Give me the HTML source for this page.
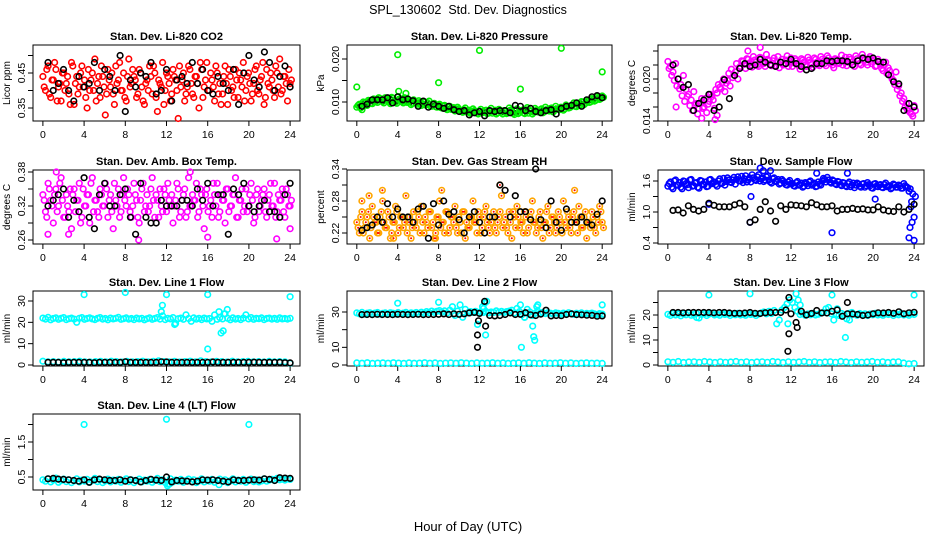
<!DOCTYPE html>
<html><head><meta charset="utf-8"><style>
body{margin:0;background:#fff;}
svg{display:block;font-family:"Liberation Sans",sans-serif;}
</style></head><body>
<svg id="c" width="936" height="540" viewBox="0 0 936 540">
<text x="468" y="14" text-anchor="middle" font-size="12.5" style="white-space:pre">SPL_130602&#160; Std. Dev. Diagnostics</text>
<text x="468" y="531" text-anchor="middle" font-size="13">Hour of Day (UTC)</text>
</svg>
<script>
// ---- data ----
const hourTicks=[0,4,8,12,16,20,24];
const co2Red=[0.44,0.40,0.47,0.38,0.43,0.46,0.41,0.37,0.45,0.42,0.39,0.48,0.36,0.44,0.41,0.47,0.43,0.35,0.40,0.45,0.49,0.42,0.38,0.44,0.33,0.46,0.41,0.39,0.47,0.43,0.40,0.45,0.37,0.49,0.42,0.44,0.38,0.46,0.41,0.36,0.43,0.47,0.39,0.45,0.34,0.42,0.48,0.40,0.44,0.37,0.46,0.43,0.32,0.41,0.45,0.39,0.47,0.42,0.38,0.44,0.35,0.46,0.41,0.48,0.40,0.43,0.37,0.45,0.42,0.39,0.47,0.36,0.44,0.41,0.46,0.38,0.43,0.48,0.40,0.45,0.37,0.42,0.47,0.39,0.44,0.36,0.46,0.41,0.43,0.38,0.45,0.49,0.40,0.44,0.37,0.42];
const co2Red2=[0.41,0.46,0.39,0.43,0.48,0.37,0.42,0.45,0.40,0.44,0.36,0.47,0.42,0.39,0.45,0.41,0.38,0.46,0.43,0.40,0.37,0.44,0.47,0.41,0.39,0.43,0.45,0.36,0.42,0.48,0.40,0.38,0.44,0.41,0.46,0.43,0.39,0.45,0.37,0.42,0.40,0.44,0.47,0.38,0.43,0.41,0.36,0.45,0.42,0.39,0.44,0.40,0.47,0.43,0.37,0.41,0.46,0.39,0.44,0.42,0.48,0.38,0.43,0.40,0.45,0.41,0.47,0.39,0.36,0.44,0.42,0.46,0.40,0.38,0.43,0.45,0.41,0.37,0.44,0.42,0.39,0.46,0.40,0.43,0.48,0.38,0.42,0.45,0.40,0.47,0.41,0.39,0.44,0.42,0.46,0.43];
const co2Black=[0.48,0.40,0.42,0.46,0.40,0.37,0.44,0.41,0.42,0.48,0.40,0.46,0.44,0.40,0.50,0.34,0.43,0.41,0.45,0.44,0.48,0.39,0.40,0.46,0.37,0.43,0.44,0.42,0.48,0.42,0.46,0.40,0.39,0.44,0.42,0.40,0.46,0.36,0.45,0.50,0.43,0.41,0.51,0.48,0.40,0.44,0.47,0.41];
const presGreen=[0.0088,0.0095,0.0082,0.0098,0.0092,0.0102,0.0096,0.0106,0.0099,0.0108,0.0101,0.0110,0.0103,0.0096,0.0109,0.0100,0.0112,0.0104,0.0098,0.0108,0.0101,0.0094,0.0105,0.0098,0.0103,0.0092,0.0100,0.0094,0.0102,0.0090,0.0097,0.0088,0.0095,0.0086,0.0092,0.0082,0.0090,0.0085,0.0079,0.0088,0.0081,0.0076,0.0086,0.0080,0.0074,0.0084,0.0078,0.0072,0.0083,0.0077,0.0081,0.0074,0.0085,0.0078,0.0072,0.0083,0.0076,0.0080,0.0073,0.0086,0.0078,0.0071,0.0084,0.0076,0.0081,0.0073,0.0087,0.0079,0.0072,0.0085,0.0077,0.0082,0.0075,0.0088,0.0080,0.0085,0.0077,0.0090,0.0083,0.0088,0.0081,0.0093,0.0086,0.0091,0.0098,0.0089,0.0096,0.0101,0.0094,0.0104,0.0099,0.0108,0.0102,0.0112,0.0106,0.0114];
const presGreen2=[0.0092,0.0086,0.0100,0.0094,0.0104,0.0097,0.0107,0.0102,0.0110,0.0104,0.0098,0.0106,0.0100,0.0111,0.0103,0.0097,0.0107,0.0101,0.0110,0.0099,0.0104,0.0097,0.0101,0.0095,0.0099,0.0096,0.0093,0.0098,0.0091,0.0095,0.0089,0.0093,0.0087,0.0091,0.0085,0.0088,0.0083,0.0087,0.0081,0.0084,0.0078,0.0082,0.0077,0.0081,0.0076,0.0080,0.0074,0.0079,0.0075,0.0080,0.0073,0.0078,0.0074,0.0081,0.0075,0.0079,0.0072,0.0078,0.0075,0.0081,0.0074,0.0079,0.0073,0.0080,0.0075,0.0082,0.0074,0.0079,0.0076,0.0081,0.0078,0.0084,0.0077,0.0082,0.0079,0.0086,0.0080,0.0084,0.0082,0.0087,0.0084,0.0089,0.0087,0.0093,0.0090,0.0095,0.0093,0.0099,0.0097,0.0102,0.0100,0.0105,0.0104,0.0109,0.0108,0.0111];
const presOutHours=[0,4,4.1,8,12,16,20,24,4.8];
const presOutValues=[0.0135,0.021,0.0125,0.0145,0.0220,0.013,0.0225,0.017,0.012];
const presBlack=[0.0090,0.0095,0.0105,0.0105,0.0105,0.0110,0.0098,0.0112,0.0105,0.0107,0.0103,0.0090,0.0102,0.0088,0.0095,0.0090,0.0085,0.0090,0.0082,0.0078,0.0080,0.0070,0.0075,0.0078,0.0068,0.0080,0.0078,0.0080,0.0080,0.0075,0.0092,0.0090,0.0080,0.0085,0.0078,0.0075,0.0080,0.0082,0.0072,0.0085,0.0090,0.0092,0.0098,0.0090,0.0105,0.0112,0.0115,0.0110];
const tempMag=[0.0225,0.0218,0.0210,0.0222,0.0200,0.0192,0.0205,0.0185,0.0178,0.0170,0.0182,0.0165,0.0158,0.0172,0.0160,0.0152,0.0168,0.0175,0.0158,0.0180,0.0188,0.0195,0.0182,0.0198,0.0190,0.0202,0.0210,0.0200,0.0218,0.0225,0.0215,0.0228,0.0220,0.0232,0.0224,0.0218,0.0230,0.0222,0.0235,0.0226,0.0219,0.0230,0.0224,0.0216,0.0228,0.0221,0.0233,0.0225,0.0218,0.0229,0.0222,0.0214,0.0227,0.0220,0.0231,0.0223,0.0217,0.0228,0.0221,0.0232,0.0225,0.0219,0.0230,0.0223,0.0216,0.0228,0.0222,0.0234,0.0226,0.0219,0.0231,0.0224,0.0218,0.0229,0.0222,0.0235,0.0227,0.0220,0.0232,0.0225,0.0218,0.0228,0.0221,0.0212,0.0224,0.0216,0.0205,0.0198,0.0210,0.0190,0.0180,0.0172,0.0165,0.0158,0.0150,0.0162];
const tempMag2=[0.0215,0.0205,0.0198,0.0190,0.0186,0.0176,0.0168,0.0175,0.0162,0.0155,0.0163,0.0150,0.0166,0.0158,0.0172,0.0164,0.0178,0.0170,0.0185,0.0192,0.0186,0.0200,0.0194,0.0208,0.0214,0.0206,0.0222,0.0216,0.0226,0.0221,0.0229,0.0223,0.0217,0.0227,0.0220,0.0231,0.0224,0.0218,0.0228,0.0221,0.0226,0.0219,0.0232,0.0224,0.0220,0.0227,0.0218,0.0230,0.0223,0.0226,0.0219,0.0229,0.0224,0.0218,0.0227,0.0221,0.0230,0.0224,0.0219,0.0228,0.0222,0.0233,0.0225,0.0220,0.0229,0.0223,0.0226,0.0220,0.0231,0.0224,0.0228,0.0221,0.0233,0.0226,0.0220,0.0230,0.0224,0.0229,0.0222,0.0227,0.0219,0.0224,0.0215,0.0220,0.0208,0.0212,0.0200,0.0192,0.0185,0.0176,0.0168,0.0160,0.0155,0.0152,0.0147,0.0155];
const tempOutHours=[3.3,4.6,4.8,0.8,9,7.8];
const tempOutValues=[0.0144,0.0142,0.0148,0.0160,0.0245,0.0240];
const tempBlack=[0.0220,0.0200,0.0188,0.0192,0.0155,0.0165,0.0170,0.0178,0.0155,0.0160,0.0199,0.0172,0.0205,0.0215,0.0222,0.0218,0.0220,0.0228,0.0224,0.0220,0.0218,0.0224,0.0222,0.0228,0.0222,0.0218,0.0213,0.0215,0.0222,0.0222,0.0226,0.0225,0.0226,0.0226,0.0225,0.0220,0.0226,0.0230,0.0228,0.0230,0.0225,0.0224,0.0206,0.0196,0.0193,0.0155,0.0165,0.0160];
const ambMag=[0.34,0.31,0.36,0.33,0.29,0.35,0.32,0.37,0.30,0.34,0.31,0.28,0.35,0.33,0.36,0.30,0.32,0.34,0.29,0.37,0.33,0.31,0.35,0.32,0.36,0.30,0.34,0.28,0.33,0.35,0.31,0.37,0.32,0.34,0.30,0.36,0.33,0.29,0.35,0.31,0.34,0.32,0.37,0.30,0.33,0.35,0.31,0.34,0.36,0.32,0.29,0.33,0.35,0.31,0.34,0.30,0.37,0.32,0.33,0.36,0.31,0.34,0.28,0.35,0.32,0.30,0.34,0.36,0.31,0.33,0.29,0.35,0.32,0.34,0.37,0.30,0.33,0.31,0.35,0.32,0.36,0.29,0.34,0.31,0.33,0.35,0.30,0.34,0.32,0.36,0.31,0.33,0.35,0.30,0.34,0.32];
const ambMag2=[0.33,0.30,0.35,0.32,0.34,0.31,0.36,0.33,0.30,0.32,0.35,0.34,0.31,0.33,0.29,0.35,0.32,0.34,0.36,0.31,0.33,0.30,0.34,0.32,0.35,0.33,0.31,0.36,0.32,0.30,0.34,0.33,0.35,0.31,0.32,0.34,0.30,0.33,0.36,0.32,0.31,0.35,0.33,0.34,0.30,0.32,0.35,0.31,0.33,0.34,0.32,0.36,0.30,0.33,0.35,0.31,0.32,0.34,0.33,0.30,0.35,0.32,0.34,0.31,0.33,0.36,0.32,0.30,0.34,0.33,0.35,0.31,0.32,0.34,0.30,0.33,0.35,0.32,0.31,0.34,0.33,0.30,0.35,0.32,0.34,0.31,0.33,0.36,0.32,0.30,0.34,0.33,0.31,0.35,0.32,0.33];
const ambOutHours=[0.5,2.5,9.3,16,22.7,14.3,1.3,24];
const ambOutValues=[0.27,0.27,0.26,0.265,0.262,0.38,0.38,0.28];
const ambBlack=[0.32,0.33,0.34,0.35,0.30,0.33,0.31,0.37,0.30,0.28,0.34,0.36,0.32,0.32,0.34,0.35,0.30,0.27,0.36,0.30,0.29,0.29,0.33,0.32,0.32,0.32,0.33,0.33,0.32,0.35,0.33,0.36,0.32,0.34,0.34,0.27,0.35,0.34,0.36,0.32,0.31,0.32,0.33,0.31,0.31,0.30,0.34,0.36];
const rhOrange=[0.24,0.22,0.26,0.23,0.25,0.21,0.27,0.24,0.22,0.25,0.28,0.23,0.26,0.21,0.24,0.27,0.22,0.25,0.23,0.29,0.24,0.21,0.26,0.23,0.25,0.27,0.22,0.24,0.26,0.23,0.21,0.25,0.28,0.24,0.22,0.26,0.23,0.25,0.27,0.22,0.24,0.26,0.21,0.23,0.25,0.28,0.24,0.26,0.22,0.25,0.27,0.23,0.24,0.26,0.22,0.25,0.29,0.24,0.23,0.26,0.21,0.25,0.27,0.23,0.24,0.26,0.22,0.25,0.28,0.24,0.23,0.26,0.21,0.24,0.27,0.23,0.25,0.22,0.26,0.24,0.28,0.23,0.25,0.22,0.26,0.24,0.27,0.23,0.25,0.21,0.24,0.26,0.23,0.25,0.27,0.24];
const rhOrange2=[0.23,0.25,0.22,0.24,0.26,0.23,0.25,0.24,0.22,0.26,0.24,0.23,0.25,0.22,0.24,0.26,0.23,0.25,0.24,0.22,0.25,0.23,0.24,0.26,0.22,0.24,0.25,0.23,0.26,0.24,0.22,0.25,0.23,0.24,0.26,0.22,0.25,0.24,0.23,0.25,0.22,0.26,0.24,0.23,0.25,0.24,0.22,0.25,0.23,0.26,0.24,0.22,0.25,0.23,0.24,0.26,0.23,0.25,0.22,0.24,0.26,0.23,0.25,0.24,0.22,0.25,0.23,0.26,0.24,0.22,0.25,0.23,0.24,0.26,0.22,0.25,0.24,0.23,0.25,0.22,0.24,0.26,0.23,0.25,0.24,0.22,0.25,0.23,0.26,0.24,0.23,0.25,0.22,0.24,0.26,0.23];
const rhOutHours=[2.5,8.3,14,21.3,0.5,7.7,1.2,3.6];
const rhOutValues=[0.30,0.30,0.31,0.30,0.28,0.21,0.29,0.21];
const rhBlack=[0.225,0.23,0.235,0.25,0.24,0.275,0.25,0.265,0.25,0.25,0.24,0.265,0.27,0.21,0.275,0.235,0.28,0.255,0.26,0.245,0.22,0.25,0.26,0.24,0.22,0.25,0.25,0.31,0.30,0.25,0.29,0.26,0.26,0.245,0.34,0.245,0.23,0.28,0.24,0.225,0.265,0.24,0.24,0.25,0.24,0.235,0.255,0.28];
const flowBlue=[1.50,1.58,1.45,1.62,1.52,1.48,1.60,1.55,1.47,1.63,1.51,1.57,1.46,1.60,1.53,1.49,1.62,1.55,1.58,1.50,1.64,1.56,1.52,1.66,1.58,1.62,1.54,1.68,1.60,1.57,1.70,1.62,1.58,1.66,1.61,1.72,1.64,1.59,1.68,1.62,1.56,1.66,1.60,1.54,1.63,1.57,1.52,1.61,1.55,1.50,1.59,1.53,1.48,1.57,1.51,1.60,1.54,1.49,1.58,1.52,1.65,1.58,1.62,1.56,1.60,1.53,1.58,1.51,1.56,1.49,1.58,1.52,1.47,1.56,1.50,1.54,1.48,1.57,1.51,1.46,1.55,1.49,1.53,1.47,1.56,1.50,1.45,1.54,1.48,1.52,1.46,1.55,1.49,1.40,1.20,0.90];
const flowBlue2=[1.55,1.48,1.60,1.52,1.57,1.45,1.59,1.53,1.62,1.50,1.56,1.48,1.61,1.54,1.58,1.50,1.63,1.57,1.53,1.60,1.55,1.65,1.59,1.62,1.57,1.67,1.63,1.60,1.69,1.64,1.58,1.66,1.72,1.63,1.68,1.60,1.66,1.62,1.70,1.58,1.64,1.59,1.63,1.56,1.60,1.53,1.58,1.55,1.51,1.57,1.52,1.56,1.50,1.55,1.58,1.52,1.56,1.50,1.54,1.60,1.63,1.67,1.58,1.62,1.55,1.59,1.53,1.57,1.51,1.55,1.49,1.56,1.52,1.54,1.48,1.55,1.51,1.53,1.47,1.54,1.50,1.52,1.48,1.53,1.49,1.51,1.47,1.52,1.48,1.50,1.46,1.51,1.47,1.45,1.35,1.30];
const flowOutHours=[8,8.1,9,9.3,10,14.5,16,17.5,23.5,23.6,23.8,24,23.7,20.2,4];
const flowOutValues=[0.80,1.30,1.85,1.80,1.80,1.75,0.60,1.75,0.50,0.70,0.80,0.45,1.10,1.25,1.15];
const flowBlack=[1.03,1.04,0.98,1.12,1.05,1.02,1.05,1.17,1.13,1.10,1.10,1.10,1.14,1.17,1.10,0.80,0.85,1.05,1.20,1.02,0.82,1.12,1.05,1.14,1.13,1.12,1.10,1.18,1.14,1.10,1.10,1.12,1.02,1.05,1.05,1.07,1.05,1.06,1.04,1.04,1.10,1.04,1.02,1.01,1.10,1.00,1.05,1.15];
const line1Cyan=[22,21.5,22.3,21.2,21.8,22.1,21.4,21.9,22.2,21.3,21.7,22,21.5,20,21.9,22.2,21.4,21.8,22.1,21.6,21.3,21.9,22.2,21.5,21.8,21.2,22,21.6,21.9,22.3,21.4,21.7,22.1,21.5,21.8,21.3,22,21.6,21.9,21.2,21.7,22.1,21.4,21.8,22.2,21.5,23,21.3,21.9,21.6,22.2,19.5,21.7,22,21.4,23.5,21.8,20.5,22.1,21.5,21.9,21.3,22,21.6,21.8,20.5,23.5,21.4,22.2,21.6,24,21.9,21.2,22.1,21.5,21.8,21.3,22,23.5,21.6,22.2,21.4,21.9,21.7,22.1,21.3,21.8,22,21.5,21.9,21.4,22.1,21.6,21.8,21.5,21.9];
const line1Low=[1.8,1.5,1.6,1.4,1.7,1.5,1.6,1.8,1.5,1.4,1.6,1.7,1.5,1.8,1.6,1.4,1.7,1.5,1.6,1.8,1.5,1.7,1.9,1.6,1.5,1.7,1.4,1.6,1.8,1.5,1.9,1.6,1.5,1.7,1.6,1.4,1.8,1.5,1.6,1.7,1.5,1.6,1.4,1.7,1.5,1.6,1.5,0.8];
const line1OutHours=[4,8,12,16,24,11.5,11.6,16,17.3,17.5,17.1,17.9,17.6,12.8];
const line1OutValues=[33,34,33,33,32,25,28,7.5,15,16,25,26,24,19];
const line1Black=[1.2,1.2,1.2,1.1,1.2,1.2,1.2,1.2,1.2,1.1,1.2,1.2,1.2,1.2,1.2,1.5,1.2,1.2,1.2,1.2,1.2,1.2,1.5,1.4,1.2,1.2,1.2,1.2,1.2,1.2,1.2,1.2,1.4,1.2,1.2,1.2,1.2,1.2,1.2,1.2,1.3,1.2,1.2,1.2,1.2,1.2,1.1,1.0];
const line2Cyan=[29.5,29,29.8,28.8,29.3,29.6,28.9,29.4,29.7,28.8,29.2,29.5,29,29.6,29.3,28.9,29.7,29.1,29.4,29.8,29,29.5,29.2,29.7,29.1,29.9,29.4,30.2,29.6,30.5,29.8,30.4,30.8,29.9,30.6,29.5,31,33,28,30.5,34,27,31.5,29.5,30.2,29.8,30.4,29.6,30.1,29.7,30.3,29.5,30,29.8,30.6,29.9,30.4,29.7,30.2,30.5,31,29.5,32,30.2,28.5,27,31.5,30,28,29.2,30.6,29.4,29.8,29.1,29.6,29.3,28.9,29.5,29.2,28.8,29.4,29,29.6,29.1,28.7,29.3,29,29.5,28.8,29.2,28.9,29.4,29,28.6,29.1,28.8];
const line2Low=[1.2,1,1.3,0.9,1.1,1.2,1,1.3,1.1,0.9,1.2,1,1.1,1.3,1,1.2,0.9,1.1,1.2,1,1.3,1.1,0.9,1.2,1,1.1,1.3,1,1.2,0.9,1.1,1.2,1,1.3,1.1,0.9,1.2,1,1.1,1.3,1,1.2,0.9,1.1,1.2,1,1.1,0.9];
const line2OutHours=[4,8,16,24,12.3,12.5,12.7,11.8,12.6,16.1,17.3,17.4,17.6,17.7,17.2,12.4,16.4];
const line2OutValues=[35,35.5,34,34,33,35,36,23,17,10,16,14,33,34,22,32,27];
const line2Black=[28.5,28.6,28.5,28.7,28.6,28.6,28.5,28.7,28.6,28.5,28.6,28.7,28.5,28.6,28.6,28.7,28.9,28.6,29,28.7,29,29.5,29.8,29.2,36,28,27.8,28,28.6,29.5,28.6,28.7,29.6,28.4,28,28.8,31,27.8,28,27.9,28.6,28.9,28.5,28.4,28.2,28.1,27.6,27.8];
const line2BlkOutHours=[11.8,11.8,12.6,11.9];
const line2BlkOutValues=[17,10,22,25];
const line3Cyan=[20.3,19.8,20.6,20,20.4,19.7,20.5,20.1,20.7,19.9,20.3,20.6,18.8,20.2,20.5,19.8,20.4,20.7,20,20.3,19.9,20.6,20.2,20.5,19.8,20.4,20.1,20.7,20,20.3,19.9,20.6,20.2,20.5,19.8,20.4,20.8,21.2,20.5,21.5,20.6,21.8,16.5,18,22,23,24.5,26,25,23,21.5,20.2,20.6,19.9,20.4,20.1,20.7,20,20.3,20.8,21,22.5,23,20.5,18,20.3,19.8,20.6,20.1,18.5,20.7,21,20.3,19.9,20.6,20.2,20.5,19.8,20.4,20.1,20.7,20,20.3,19.9,20.6,20.2,20.5,19.8,20.4,20.1,20.6,20,20.3,19.9,20.5,20.2];
const line3Low=[1.3,1.1,1.4,1,1.2,1.3,1.1,1.4,1.2,1,1.3,1.1,1.2,1.4,1.1,1.3,1,1.2,1.3,1.1,1.4,1.2,1,1.3,1.1,1.2,1.4,1.1,1.3,1,1.2,1.3,1.1,1.4,1.2,1,1.3,1.1,1.2,1.4,1.1,1.3,1,1.2,1.3,0.8,0.5,0.6];
const line3OutHours=[4,8,16,24,12.5,12.7,12.9,17.3,17.7,11.7,16.5,2.8];
const line3OutValues=[28,28.5,28,28,28.5,26,24,11,18,16.5,22.5,19];
const line3Black=[21,21,20.9,21,21,21,21,21,20.9,21,21,20.8,20.7,20.7,20.8,21,20.7,20.6,20.9,21,21,21,22,20.5,17,21.5,20,20.6,21.8,20.8,20.8,21.5,22,19.5,20.5,20.4,20.2,19.8,20,20.5,20.9,20.8,21,20.7,21.3,20.5,20.9,21.1];
const line3BlkOutHours=[11.8,11.8,11.7,12.6,17.5];
const line3BlkOutValues=[27,12.5,5.5,15,25];
const line4Cyan=[0.42,0.38,0.45,0.36,0.41,0.47,0.35,0.40,0.44,0.37,0.42,0.34,0.39,0.45,0.36,0.41,0.38,0.43,0.35,0.40,0.46,0.37,0.42,0.34,0.39,0.44,0.36,0.41,0.38,0.43,0.35,0.40,0.45,0.37,0.42,0.34,0.39,0.44,0.36,0.41,0.38,0.43,0.35,0.40,0.46,0.37,0.42,0.34,0.30,0.45,0.36,0.41,0.38,0.43,0.35,0.40,0.44,0.37,0.42,0.34,0.39,0.45,0.36,0.41,0.38,0.43,0.35,0.40,0.44,0.37,0.42,0.34,0.39,0.45,0.36,0.41,0.38,0.43,0.35,0.40,0.44,0.37,0.42,0.36,0.39,0.45,0.38,0.41,0.43,0.40,0.46,0.42,0.44,0.41,0.45,0.43];
const line4OutHours=[4,12,20,12.1,17.1,12.3];
const line4OutValues=[2.0,2.15,2.0,0.25,0.28,0.3];
const line4Black=[0.45,0.46,0.44,0.43,0.42,0.40,0.38,0.42,0.35,0.42,0.44,0.42,0.40,0.40,0.42,0.38,0.42,0.40,0.36,0.40,0.43,0.41,0.40,0.50,0.36,0.40,0.39,0.38,0.36,0.38,0.42,0.41,0.42,0.40,0.38,0.36,0.42,0.40,0.40,0.41,0.42,0.41,0.45,0.43,0.40,0.48,0.47,0.46];

// ---- drawing ----
const NS='http://www.w3.org/2000/svg';
const svg=document.getElementById('c');
function mk(tag,attrs,parent){const e=document.createElementNS(NS,tag);for(const k in attrs)e.setAttribute(k,attrs[k]);(parent||svg).appendChild(e);return e;}
const cols=[{l:33,r:300},{l:347,r:612},{l:658,r:924}];
const rows=[{t:45,b:121},{t:170,b:244},{t:291,b:366},{t:414,b:490}];
function panel(cfg){
  const c=cols[cfg.col],rw=rows[cfg.row];
  const g=mk('g',{});
  
  
  const xs=h=>c.l+(h+0.96)/25.92*(c.r-c.l);
  const ys=v=>cfg.p1+(v-cfg.v1)/(cfg.v2-cfg.v1)*(cfg.p2-cfg.p1);
  const t=mk('text',{x:(c.l+c.r)/2,y:rw.t-5,'text-anchor':'middle','font-size':'11','font-weight':'bold'},g);
  t.textContent=cfg.title;
  
  
  const box=mk('rect',{x:c.l,y:rw.t,width:c.r-c.l,height:rw.b-rw.t,fill:'none',stroke:'#000','stroke-width':1},g);
  
  
  mk('line',{x1:xs(0),x2:xs(24),y1:rw.b,y2:rw.b,stroke:'#000'},g);
  hourTicks.forEach(h=>{
    mk('line',{x1:xs(h),x2:xs(h),y1:rw.b,y2:rw.b+5,stroke:'#000'},g);
    const tl=mk('text',{x:xs(h),y:rw.b+17,'text-anchor':'middle','font-size':'10.5'},g);
    tl.textContent=h;
    
    
  });
  const yt=cfg.ticks;
  mk('line',{x1:c.l,x2:c.l,y1:ys(yt[0]),y2:ys(yt[yt.length-1])},g);
  yt.forEach(v=>{
    const y=ys(v);
    mk('line',{x1:c.l-5,x2:c.l,y1:y,y2:y,stroke:'#000'},g);
    if(cfg.labels.includes(v)){
      const tl=mk('text',{x:c.l-8,y:y,'text-anchor':'middle','font-size':'10.5',transform:`rotate(-90 ${c.l-8} ${y})`},g);
      tl.textContent=cfg.fmt?v.toFixed(cfg.fmt):v;
      
      
    }
  });
  const yl=mk('text',{x:c.l-23,y:(rw.t+rw.b)/2,'text-anchor':'middle','font-size':'10',transform:`rotate(-90 ${c.l-23} ${(rw.t+rw.b)/2})`},g);
  yl.textContent=cfg.ylab;
  
  
  const layer=mk('g',{},g);
  function pts(hours,vals,color,inner){
    vals.forEach((v,i)=>{
      const cx=xs(hours(i)),cy=ys(v);
      if(cy<rw.t-2||cy>rw.b+2)return;
      const p=mk('circle',{cx:cx.toFixed(1),cy:cy.toFixed(1),r:2.8,fill:'none',stroke:color,'stroke-width':1.6},layer);
      
      
      if(inner){mk('circle',{cx:cx.toFixed(1),cy:cy.toFixed(1),r:1,fill:inner},layer);}
    });
  }
  cfg.series.forEach(s=>{
    let hf;
    if(s.hours)hf=i=>s.hours[i];
    else if(s.black)hf=i=>(i+1)*24/s.vals.length;
    else hf=i=>i*24/(s.vals.length-1)+(s.shift||0);
    pts(hf,s.vals,s.color,s.inner);
  });
}
const cfgs=[
 {name:'panel-co2',col:0,row:0,title:'Stan. Dev. Li-820 CO2',ylab:'Licor ppm',v1:0.45,p1:73,v2:0.35,p2:108,ticks:[0.35,0.40,0.45,0.50],labels:[0.35,0.45],fmt:2,
  series:[{vals:co2Red,color:'#ff0000'},{vals:co2Red2,color:'#ff0000',shift:0.125},{vals:co2Black,color:'#000',black:1}]},
 {name:'panel-pressure',col:1,row:0,title:'Stan. Dev. Li-820 Pressure',ylab:'kPa',v1:0.020,p1:59,v2:0.010,p2:102,ticks:[0.010,0.015,0.020],labels:[0.010,0.020],fmt:3,
  series:[{vals:presGreen,color:'#00ee00',inner:'#006600'},{vals:presGreen2,color:'#00ee00',inner:'#006600',shift:0.125},{vals:presOutValues,hours:presOutHours,color:'#00ee00'},{vals:presBlack,color:'#000',black:1}]},
 {name:'panel-li820-temp',col:2,row:0,title:'Stan. Dev. Li-820 Temp.',ylab:'degrees C',v1:0.020,p1:79,v2:0.014,p2:121,ticks:[0.014,0.016,0.018,0.020,0.022,0.024],labels:[0.014,0.020],fmt:3,
  series:[{vals:tempMag,color:'#ff00ff'},{vals:tempMag2,color:'#ff00ff',shift:0.125},{vals:tempOutValues,hours:tempOutHours,color:'#ff00ff'},{vals:tempBlack,color:'#000',black:1}]},
 {name:'panel-amb-box-temp',col:0,row:1,title:'Stan. Dev. Amb. Box Temp.',ylab:'degrees C',v1:0.38,p1:172,v2:0.26,p2:240,ticks:[0.26,0.29,0.32,0.35,0.38],labels:[0.26,0.32,0.38],fmt:2,
  series:[{vals:ambMag,color:'#ff00ff'},{vals:ambMag2,color:'#ff00ff',shift:0.125},{vals:ambOutValues,hours:ambOutHours,color:'#ff00ff'},{vals:ambBlack,color:'#000',black:1}]},
 {name:'panel-gas-stream-rh',col:1,row:1,title:'Stan. Dev. Gas Stream RH',ylab:'percent',v1:0.34,p1:169,v2:0.22,p2:233,ticks:[0.22,0.25,0.28,0.31,0.34],labels:[0.22,0.28,0.34],fmt:2,
  series:[{vals:rhOrange,color:'#ffa500',inner:'#ff0000'},{vals:rhOrange2,color:'#ffa500',inner:'#ff0000',shift:0.125},{vals:rhOutValues,hours:rhOutHours,color:'#ffa500',inner:'#ff0000'},{vals:rhBlack,color:'#000',black:1}]},
 {name:'panel-sample-flow',col:2,row:1,title:'Stan. Dev. Sample Flow',ylab:'ml/min',v1:1.6,p1:181,v2:0.4,p2:243,ticks:[0.4,0.7,1.0,1.3,1.6],labels:[0.4,1.0,1.6],fmt:1,
  series:[{vals:flowBlue,color:'#0000ff'},{vals:flowBlue2,color:'#0000ff',shift:0.125},{vals:flowOutValues,hours:flowOutHours,color:'#0000ff'},{vals:flowBlack,color:'#000',black:1}]},
 {name:'panel-line1-flow',col:0,row:2,title:'Stan. Dev. Line 1 Flow',ylab:'ml/min',v1:0,p1:365,v2:30,p2:301,ticks:[0,10,20,30],labels:[0,10,20,30],
  series:[{vals:line1Cyan,color:'#00ffff'},{vals:line1Low,color:'#00ffff'},{vals:line1OutValues,hours:line1OutHours,color:'#00ffff'},{vals:line1Black,color:'#000',black:1}]},
 {name:'panel-line2-flow',col:1,row:2,title:'Stan. Dev. Line 2 Flow',ylab:'ml/min',v1:0,p1:365,v2:30,p2:312,ticks:[0,10,20,30],labels:[0,10,30],
  series:[{vals:line2Cyan,color:'#00ffff'},{vals:line2Low,color:'#00ffff'},{vals:line2OutValues,hours:line2OutHours,color:'#00ffff'},{vals:line2Black,color:'#000',black:1},{vals:line2BlkOutValues,hours:line2BlkOutHours,color:'#000'}]},
 {name:'panel-line3-flow',col:2,row:2,title:'Stan. Dev. Line 3 Flow',ylab:'ml/min',v1:0,p1:365,v2:20,p2:315,ticks:[0,5,10,15,20,25],labels:[0,10,20],
  series:[{vals:line3Cyan,color:'#00ffff'},{vals:line3Low,color:'#00ffff'},{vals:line3OutValues,hours:line3OutHours,color:'#00ffff'},{vals:line3Black,color:'#000',black:1},{vals:line3BlkOutValues,hours:line3BlkOutHours,color:'#000'}]},
 {name:'panel-line4-flow',col:0,row:3,title:'Stan. Dev. Line 4 (LT) Flow',ylab:'ml/min',v1:0.5,p1:477,v2:1.5,p2:442,ticks:[0.5,1.0,1.5,2.0],labels:[0.5,1.5],fmt:1,
  series:[{vals:line4Cyan,color:'#00ffff'},{vals:line4OutValues,hours:line4OutHours,color:'#00ffff'},{vals:line4Black,color:'#000',black:1}]}
];
cfgs.forEach(panel);
</script>
</body></html>
